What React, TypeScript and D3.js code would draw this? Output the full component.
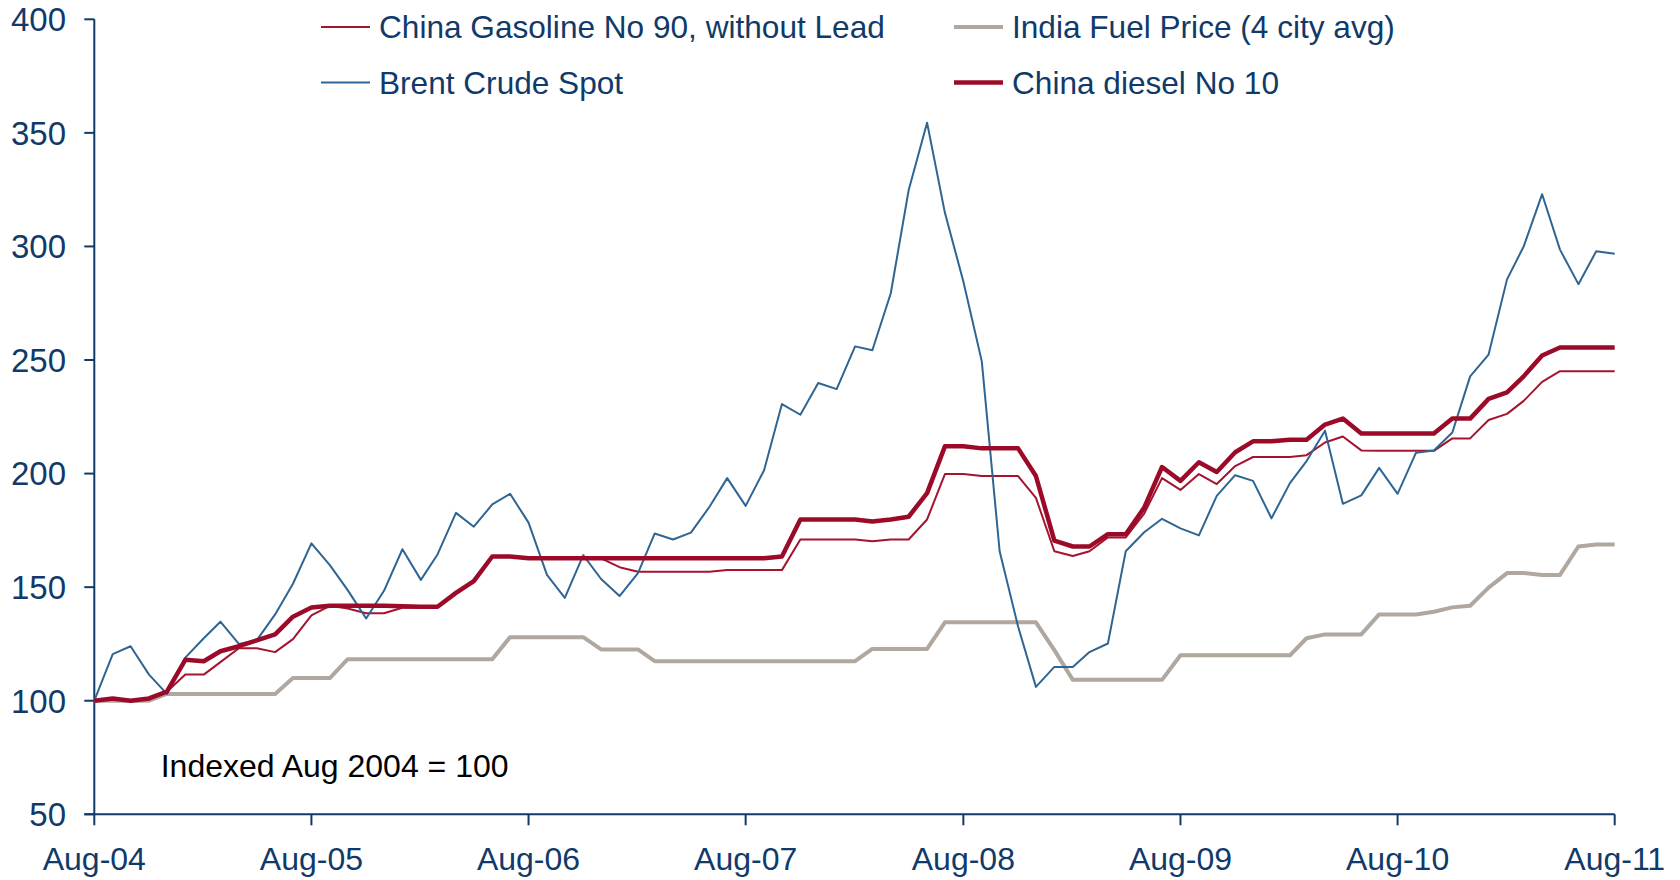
import React from "react";
import * as d3 from "d3";

const startMonth = new Date(2004, 7, 1);
const yTicks = [50, 100, 150, 200, 250, 300, 350, 400];
const xTickLabels = ["Aug-04", "Aug-05", "Aug-06", "Aug-07", "Aug-08", "Aug-09", "Aug-10", "Aug-11"];

const brent = [
  100, 120.5, 124, 111.5, 103, 119, 127.5, 134.8, 125, 126.6, 138, 151.5,
  169.3, 159.7, 148.7, 136.2, 148.4, 166.7, 153.2, 164.4, 182.7, 176.6, 186.4, 191.1,
  178.4, 155.4, 145.3, 164.1, 153.6, 146.1, 156.2, 173.6, 171, 174, 185.3, 198,
  185.8, 201.5, 230.6, 225.9, 239.9, 237.2, 256, 254.3, 279.4, 324.7, 354.5, 314.8,
  284.6, 249.4, 165.8, 132.7, 106.1, 114.9, 114.9, 121.4, 125.2, 165.8, 174.2, 180.1,
  175.9, 172.8, 190.2, 199.3, 196.8, 180.3, 195.8, 205.5, 218.9, 186.7, 190.4, 202.5,
  191.1, 209.2, 210.2, 218.1, 242.8, 252.4, 285.5, 300, 323, 298.6, 283.4, 297.9,
  296.8,
];

const diesel = [
  100, 101, 100, 101, 104, 118, 117.4, 121.8, 124, 126.6, 129.2, 137,
  141, 141.8, 141.8, 141.8, 141.8, 141.6, 141.4, 141.4, 147.5, 152.7, 163.5, 163.5,
  162.7, 162.7, 162.7, 162.7, 162.7, 162.7, 162.7, 162.7, 162.7, 162.7, 162.7, 162.7,
  162.7, 162.7, 163.5, 179.8, 179.8, 179.8, 179.8, 178.9, 179.8, 181, 191.4, 212,
  212, 211.1, 211.1, 211.1, 198.9, 170.5, 167.9, 167.9, 173.3, 173.3, 185, 202.9,
  196.8, 205, 200.7, 209.4, 214.2, 214.2, 214.9, 214.9, 221.6, 224.2, 217.6, 217.6,
  217.6, 217.6, 217.6, 224.2, 224.2, 232.9, 235.8, 242.8, 252, 255.5, 255.5, 255.5,
  255.5,
];

const gasoline = [
  100, 100.5, 100, 100.5, 104, 111.5, 111.5, 117, 123.1, 123.1, 121.4, 127.1,
  137.6, 141.8, 140.6, 138.5, 138.5, 140.9, 140.9, 141.4, 147.5, 152.7, 163.5, 163.5,
  162.7, 162.7, 162.7, 162.7, 162.7, 158.8, 156.8, 156.8, 156.8, 156.8, 156.8, 157.5,
  157.5, 157.5, 157.5, 171, 171, 171, 171, 170.2, 171, 171, 179.8, 199.8,
  199.8, 198.9, 198.9, 198.9, 189.3, 165.8, 163.7, 165.8, 171.9, 171.9, 182.4, 198,
  192.8, 199.8, 195.4, 203.3, 207.3, 207.3, 207.3, 208.1, 213.7, 216.3, 210.2, 210,
  210, 210, 210, 215.5, 215.5, 223.6, 226.3, 232, 240.4, 245.1, 245.1, 245.1,
  245.1,
];

const india = [
  100, 100, 100, 100, 103, 103, 103, 103, 103, 103, 103, 110,
  110, 110, 118.3, 118.3, 118.3, 118.3, 118.3, 118.3, 118.3, 118.3, 118.3, 128,
  128, 128, 128, 128, 122.6, 122.6, 122.6, 117.4, 117.4, 117.4, 117.4, 117.4,
  117.4, 117.4, 117.4, 117.4, 117.4, 117.4, 117.4, 122.8, 122.8, 122.8, 122.8, 134.5,
  134.5, 134.5, 134.5, 134.5, 134.5, 122.3, 109.2, 109.2, 109.2, 109.2, 109.2, 109.2,
  120, 120, 120, 120, 120, 120, 120, 127.5, 129.2, 129.2, 129.2, 138,
  138, 138, 139.2, 141.1, 141.8, 149.8, 156.2, 156.2, 155.4, 155.4, 167.9, 168.8,
  168.8,
];

const seriesNames = [
  "China Gasoline No 90, without Lead",
  "India Fuel Price (4 city avg)",
  "Brent Crude Spot",
  "China diesel No 10",
];

const NAVY = "#103a69";
const FONT = "'Liberation Sans', Arial, sans-serif";

export default function App() {
  const W = 1680, H = 880;
  const left = 94.3, right = 1614.7, top = 19.3, bottom = 814.3;
  const dates = brent.map((_, i) => d3.timeMonth.offset(startMonth, i));
  const x = d3.scaleTime().domain([dates[0], dates[dates.length - 1]]).range([left, right]);
  const y = d3.scaleLinear().domain([50, 400]).range([bottom, top]);
  const line = d3.line<number>().x((_, i) => x(dates[i])).y((v) => y(v));
  const xTicks = xTickLabels.map((_, k) => d3.timeMonth.offset(startMonth, 12 * k));

  const series = [
    { name: seriesNames[1], data: india, color: "#b0a79f", width: 4 },
    { name: seriesNames[0], data: gasoline, color: "#a5132f", width: 2 },
    { name: seriesNames[2], data: brent, color: "#2f6593", width: 2 },
    { name: seriesNames[3], data: diesel, color: "#9b0b29", width: 4.5 },
  ];

  const legend = [
    { name: seriesNames[0], color: "#a5132f", width: 2, lx: 321, ly: 27 },
    { name: seriesNames[1], color: "#b0a79f", width: 4, lx: 954, ly: 27 },
    { name: seriesNames[2], color: "#2f6593", width: 2, lx: 321, ly: 82.5 },
    { name: seriesNames[3], color: "#9b0b29", width: 4.5, lx: 954, ly: 82.5 },
  ];

  return (
    <svg width={W} height={H} style={{ position: "absolute", left: 0, top: 0, background: "#fff" }} fontFamily={FONT}>
      <rect x={0} y={0} width={W} height={H} fill="#fff" />
      <line x1={left} x2={left} y1={top} y2={bottom} stroke={NAVY} strokeWidth={2} />
      {yTicks.map((t) => (
        <g key={t}>
          <line x1={left - 10} x2={left} y1={y(t)} y2={y(t)} stroke={NAVY} strokeWidth={2} />
          <text x={66} y={y(t)} dy="0.36em" textAnchor="end" fontSize={33} fill={NAVY}>{t}</text>
        </g>
      ))}
      <line x1={left - 10} x2={right} y1={bottom} y2={bottom} stroke={NAVY} strokeWidth={2} />
      {xTicks.map((d, k) => (
        <g key={k}>
          <line x1={x(d)} x2={x(d)} y1={bottom} y2={bottom + 11} stroke={NAVY} strokeWidth={2} />
          <text x={x(d)} y={870} textAnchor="middle" fontSize={32} fill={NAVY}>{xTickLabels[k]}</text>
        </g>
      ))}
      {series.map((s) => (
        <path key={s.name} d={line(s.data) || ""} fill="none" stroke={s.color} strokeWidth={s.width} strokeLinejoin="round" />
      ))}
      {legend.map((l) => (
        <g key={l.name}>
          <line x1={l.lx} x2={l.lx + 49} y1={l.ly} y2={l.ly} stroke={l.color} strokeWidth={l.width} />
          <text x={l.lx + 58} y={l.ly} dy="0.36em" fontSize={31.6} fill={NAVY}>{l.name}</text>
        </g>
      ))}
      <text x={160.7} y={765} dy="0.36em" fontSize={32} fill="#000">Indexed Aug 2004 = 100</text>
    </svg>
  );
}
